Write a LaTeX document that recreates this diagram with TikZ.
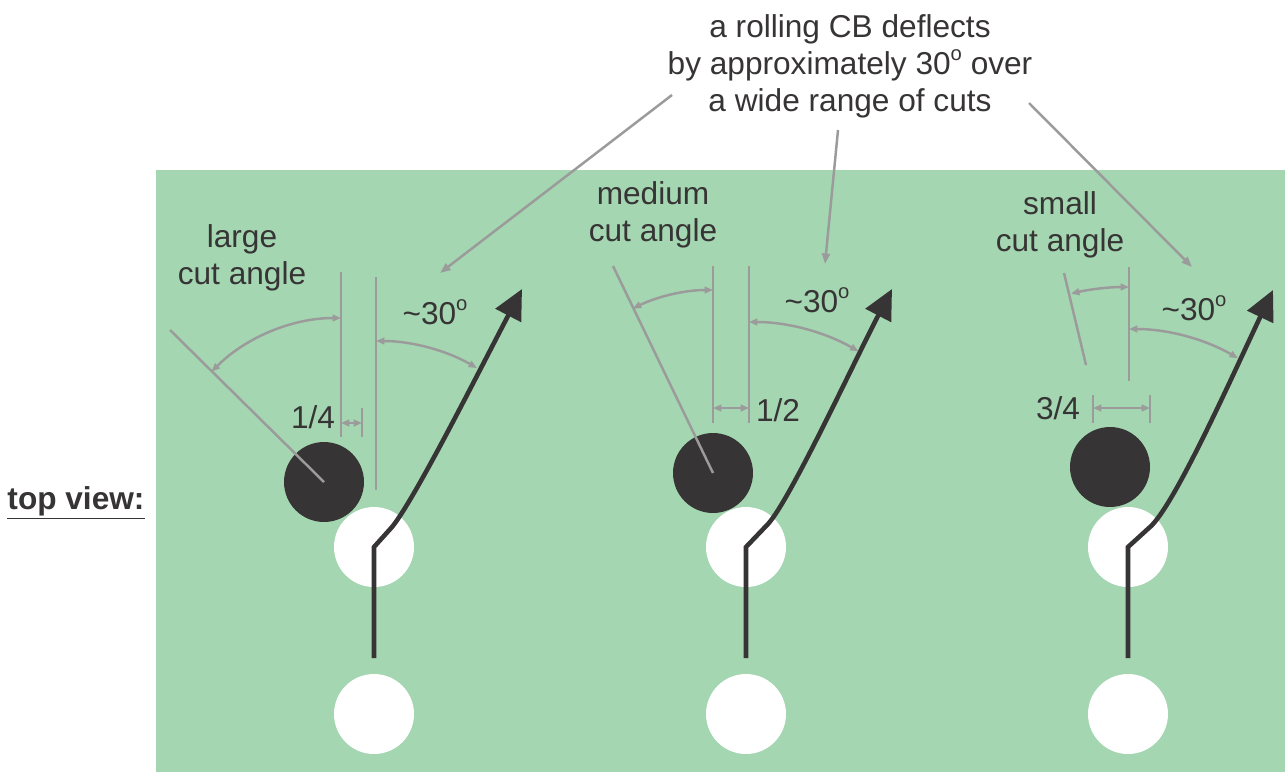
\documentclass[tikz,border=0pt]{standalone}
\usepackage{fontspec}
\setmainfont{Liberation Sans}
\usetikzlibrary{arrows.meta}
\definecolor{feltGreen}{RGB}{164,214,177}
\definecolor{ballDark}{RGB}{55,52,53}
\definecolor{guideGray}{RGB}{155,155,155}
\newcommand{\supO}{\raisebox{8pt}{\fontsize{11.5}{11.5}\selectfont o}}

\begin{document}
\begin{tikzpicture}[
    x=0.02cm,
    y=-0.02cm,
    label text/.style={
        ballDark,
        font=\fontsize{18}{21}\selectfont,
        align=center,
        inner sep=0pt
    },
    guide/.style={
        guideGray,
        line width=1.4pt
    },
    dim arrow/.style={
        guide,
        {Triangle[length=4.8pt,width=3.8pt]}-{Triangle[length=4.8pt,width=3.8pt]}
    },
    pointer/.style={
        guide,
        -{Triangle[length=6pt,width=4.5pt]}
    },
    cue ball/.style={
        circle,
        fill=white,
        minimum size=1.6cm,
        inner sep=0pt
    },
    object ball/.style={
        circle,
        fill=ballDark,
        minimum size=1.6cm,
        inner sep=0pt
    },
    cue path/.style={
        ballDark,
        line width=2.6pt,
        -{Triangle[length=17pt,width=16pt]}
    }
]

%------------------------------------------------
% Page and table
%------------------------------------------------
\fill[white] (0,0) rectangle (1285,772);
\useasboundingbox (0,0) rectangle (1285,772);
\fill[feltGreen] (156,170) rectangle (1285,772);

%------------------------------------------------
% Balls: object ball, cue ball before and at contact
%------------------------------------------------
\foreach \n/\x/\y in {1/324/482, 2/713/473, 3/1110/467}
    \node[object ball] (obj\n) at (\x,\y) {};

\foreach \n/\x in {1/374, 2/746, 3/1128}{
    \node[cue ball] (cueA\n) at (\x,547) {};
    \node[cue ball] (cueB\n) at (\x,714) {};
    \coordinate (start\n) at (\x,658);
}

%------------------------------------------------
% Large cut angle
%------------------------------------------------
\draw[guide] (341,272) -- (341,437);
\draw[guide] (376,277) -- (376,490);
\draw[guide] (362,408) -- (362,437);
\draw[dim arrow] (341,423) -- (362,423);
\draw[guide] (170,330) -- (obj1.center);
\draw[dim arrow] (341,318) arc[start angle=-90, end angle=-135, radius=183];
\draw[dim arrow] (376,341) arc[start angle=-90, end angle=-60, radius=202];

%------------------------------------------------
% Medium cut angle
%------------------------------------------------
\draw[guide] (713,266) -- (713,423);
\draw[guide] (749,266) -- (749,423);
\draw[dim arrow] (713,408) -- (749,408);
\draw[guide] (613,266) -- (obj2.center);
\draw[dim arrow] (713,290) arc[start angle=-90, end angle=-116, radius=183];
\draw[dim arrow] (749,322) arc[start angle=-90, end angle=-60, radius=219];

%------------------------------------------------
% Small cut angle
%------------------------------------------------
\draw[guide] (1129,267) -- (1129,381);
\draw[guide] (1093,395) -- (1093,423);
\draw[guide] (1150,395) -- (1150,423);
\draw[dim arrow] (1093,408) -- (1150,408);
\draw[guide] (1064,273) -- (1086,365);
\draw[dim arrow] (1129,287) arc[start angle=-90, end angle=-103, radius=258];
\draw[dim arrow] (1129,329) arc[start angle=-90, end angle=-60, radius=218];

%------------------------------------------------
% Cue ball paths
%------------------------------------------------
\coordinate (tip1) at (522,289);
\coordinate (tip2) at (892,289);
\coordinate (tip3) at (1273,290);

\draw[cue path] (start1) -- (cueA1.center) -- (392,527)
    .. controls (414,500) and (472,385) .. (tip1);
\draw[cue path] (start2) -- (cueA2.center) -- (768,524)
    .. controls (790,500) and (855,360) .. (tip2);
\draw[cue path] (start3) -- (cueA3.center) -- (1150,527)
    .. controls (1175,505) and (1235,370) .. (tip3);

%------------------------------------------------
% Labels
%------------------------------------------------
\node[label text] (summary) at (850,66)
    {a rolling CB deflects\\by approximately 30\supO{} over\\a wide range of cuts};

\node[label text] (largeLbl) at (242,258) {large\\cut angle};
\node[label text] (mediumLbl) at (653,215) {medium\\cut angle};
\node[label text] (smallLbl) at (1060,225) {small\\cut angle};

\foreach \n/\x/\y in {1/435/312, 2/817/300, 3/1194/308}
    \node[label text] (dev\n) at (\x,\y) {\textasciitilde30\supO};

\node[label text] (frac1) at (313,417) {1/4};
\node[label text] (frac2) at (778,410) {1/2};
\node[label text] (frac3) at (1058,408) {3/4};

\node[label text, font=\fontsize{18}{21}\selectfont\bfseries] (viewLbl)
    at (76,503) {\underline{top view:}};

% Pointers from the summary
\coordinate (ptrA) at (672,95);
\coordinate (ptrB) at (838,130);
\coordinate (ptrC) at (1029,103);
\coordinate (endA) at (440,273);
\coordinate (endB) at (825,264);
\coordinate (endC) at (1192,267);

\draw[pointer] (ptrA) -- (endA);
\draw[pointer] (ptrB) -- (endB);
\draw[pointer] (ptrC) -- (endC);

\end{tikzpicture}
\end{document}
